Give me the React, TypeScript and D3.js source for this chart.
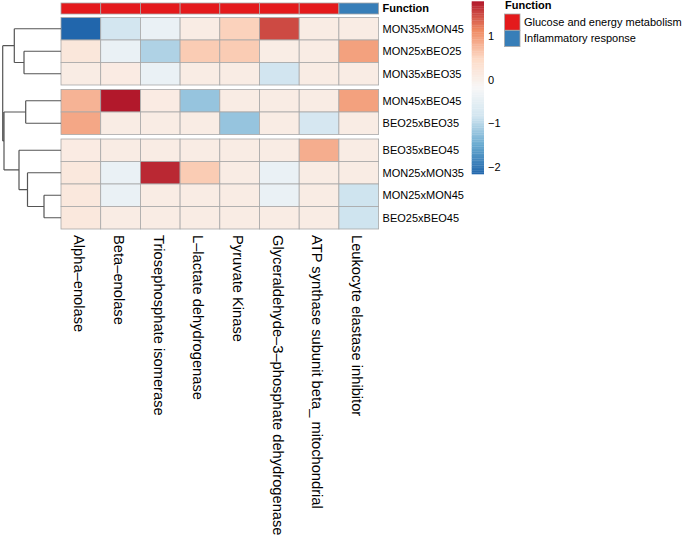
import React from "react";
import * as d3 from "d3";

const rows = [
  "MON35xMON45", "MON25xBEO25", "MON35xBEO35", "MON45xBEO45", "BEO25xBEO35",
  "BEO35xBEO45", "MON25xMON35", "MON25xMON45", "BEO25xBEO45",
];
const cols = [
  "Alpha\u2013enolase", "Beta\u2013enolase", "Triosephosphate isomerase", "L\u2013lactate dehydrogenase",
  "Pyruvate Kinase", "Glyceraldehyde\u20133\u2013phosphate dehydrogenase",
  "ATP synthase subunit beta_ mitochondrial", "Leukocyte elastase inhibitor",
];
const colFunction = [
  "Glucose and energy metabolism", "Glucose and energy metabolism", "Glucose and energy metabolism",
  "Glucose and energy metabolism", "Glucose and energy metabolism", "Glucose and energy metabolism",
  "Glucose and energy metabolism", "Inflammatory response",
];
const functionLevels = ["Glucose and energy metabolism", "Inflammatory response"];
const functionColors = ["#E41A1C", "#377EB8"];

// values row by row (rows x cols)
const values = [
  [-2.15, -0.8, -0.4, 0.08, 0.55, 1.5, 0.08, 0.08],
  [0.2, -0.4, -1.05, 0.6, 0.6, 0.06, 0.08, 0.95],
  [0.08, 0.1, -0.4, 0.08, 0.08, -0.82, 0.08, 0.08],
  [0.8, 1.79, 0.1, -1.2, 0.08, 0.08, 0.08, 0.95],
  [0.9, 0.08, 0.08, 0.08, -1.2, 0.08, -0.75, 0.08],
  [0.1, 0.08, 0.08, 0.08, 0.08, 0.08, 0.85, 0.08],
  [0.18, -0.4, 1.7, 0.6, 0.08, -0.4, 0.08, 0.08],
  [0.18, -0.4, 0.08, 0.08, 0.08, -0.4, 0.08, -0.85],
  [0.18, 0.08, 0.08, 0.08, 0.08, 0.08, 0.08, -0.85],
];
const rowGapsAfter = [2, 4];
const colorbarTicks = [1, 0, -1, -2];
const palette = ["#2166AC", "#67A9CF", "#D1E5F0", "#F7F7F7", "#FDDBC7", "#EF8A62", "#B2182B"];

type Node = { h: number; leaf?: number; children?: Node[] };
const rowTree: Node = {
  h: 58.3,
  children: [
    { h: 46.7, children: [{ h: 0, leaf: 0 }, { h: 37, children: [{ h: 0, leaf: 1 }, { h: 0, leaf: 2 }] }] },
    {
      h: 57,
      children: [
        { h: 35.3, children: [{ h: 0, leaf: 3 }, { h: 0, leaf: 4 }] },
        {
          h: 42,
          children: [
            { h: 0, leaf: 5 },
            { h: 33.5, children: [{ h: 0, leaf: 6 }, { h: 17, children: [{ h: 0, leaf: 7 }, { h: 0, leaf: 8 }] }] },
          ],
        },
      ],
    },
  ],
};

const FONT = "'Liberation Sans', Arial, Helvetica, sans-serif";

export default function App() {
  const x0 = 61, cellW = 39.7, y0 = 17.5, cellH = 22.5, gap = 4.5;
  const xScale = d3.scaleBand<number>().domain(d3.range(cols.length)).range([x0, x0 + cellW * cols.length]);
  const rowY = (i: number) => y0 + i * cellH + rowGapsAfter.filter((g) => i > g).length * gap;
  const all = values.flat();
  const [vmin, vmax] = d3.extent(all) as [number, number];
  const stops = palette.map((_, i) => vmin + (i / (palette.length - 1)) * (vmax - vmin));
  const color = d3.scaleLinear<string>().domain(stops).range(palette).interpolate(d3.interpolateRgb);
  const fnColor = d3.scaleOrdinal<string, string>().domain(functionLevels).range(functionColors);

  // dendrogram
  const root = d3.hierarchy<Node>(rowTree);
  const hx = d3.scaleLinear().domain([0, rowTree.h]).range([x0, 2.7]);
  const yOf = new Map<any, number>();
  root.eachAfter((n) => {
    if (n.data.leaf !== undefined) yOf.set(n, rowY(n.data.leaf) + cellH / 2);
    else {
      const ys = n.children!.map((c) => yOf.get(c)!);
      yOf.set(n, (ys[0] + ys[ys.length - 1]) / 2);
    }
  });
  const segs: string[] = [];
  root.each((n) => {
    if (!n.children) return;
    const xn = hx(n.data.h);
    const ys = n.children.map((c) => yOf.get(c)!);
    segs.push(`M${xn},${ys[0]}V${ys[ys.length - 1]}`);
    n.children.forEach((c) => {
      segs.push(`M${xn},${yOf.get(c)}H${hx(c.data.h)}`);
    });
  });

  // colorbar
  const cbTop = 1.3, cbBot = 174, cbX = 471.7, cbW = 12.3;
  const cbScale = d3.scaleLinear().domain([vmin, vmax]).range([cbBot, cbTop]);
  const nBands = 100;
  const bands = d3.range(nBands).map((i) => {
    const a = vmin + (i / nBands) * (vmax - vmin);
    const b = vmin + ((i + 1) / nBands) * (vmax - vmin);
    return { y: cbScale(b), h: cbScale(a) - cbScale(b), c: color((a + b) / 2) };
  });

  const rowLabelX = xScale.range()[1] + 4;

  return (
    <svg width={685} height={539} style={{ position: "absolute", left: 0, top: 0, fontFamily: FONT }}>
      <rect width={685} height={539} fill="#fff" />
      {/* annotation bar */}
      {cols.map((_, j) => (
        <rect key={"a" + j} x={xScale(j)} y={3} width={xScale.bandwidth()} height={11}
          fill={fnColor(colFunction[j])} stroke="#a8a8a8" strokeWidth={0.8} />
      ))}
      <text x={rowLabelX} y={8.5} dy="0.35em" fontSize={11} fontWeight="bold">Function</text>
      {/* heatmap cells */}
      {values.map((row, i) =>
        row.map((v, j) => (
          <rect key={`c${i}-${j}`} x={xScale(j)} y={rowY(i)} width={xScale.bandwidth()} height={cellH}
            fill={color(v)} stroke="#a8a8a8" strokeWidth={0.8} />
        ))
      )}
      {/* row labels */}
      {rows.map((r, i) => (
        <text key={"r" + i} x={rowLabelX} y={rowY(i) + cellH / 2} dy="0.35em" fontSize={11}>{r}</text>
      ))}
      {/* col labels */}
      {cols.map((c, j) => (
        <text key={"cl" + j} transform={`translate(${xScale(j)! + cellW / 2 - 1.5},235) rotate(90)`}
          dy="0.35em" fontSize={14.7}>{c}</text>
      ))}
      {/* dendrogram */}
      <path d={segs.join("")} fill="none" stroke="#555" strokeWidth={1.2} />
      {/* colorbar */}
      {bands.map((b, i) => (
        <rect key={"b" + i} x={cbX} y={b.y} width={cbW} height={b.h + 0.3} fill={b.c} />
      ))}
      {colorbarTicks.map((t) => (
        <text key={"t" + t} x={cbX + cbW + 4} y={cbScale(t)} dy="0.35em" fontSize={11}>
          {t < 0 ? "\u2212" + Math.abs(t) : String(t)}
        </text>
      ))}
      {/* function legend */}
      <text x={505} y={5.5} dy="0.35em" fontSize={11} fontWeight="bold">Function</text>
      {functionLevels.map((f, i) => (
        <g key={"l" + i}>
          <rect x={504.5} y={14 + i * 16.3} width={15.5} height={16.3} fill={fnColor(f)} stroke="#a8a8a8" strokeWidth={0.8} />
          <text x={524} y={14 + i * 16.3 + 8.2} dy="0.35em" fontSize={11}>{f}</text>
        </g>
      ))}
    </svg>
  );
}
